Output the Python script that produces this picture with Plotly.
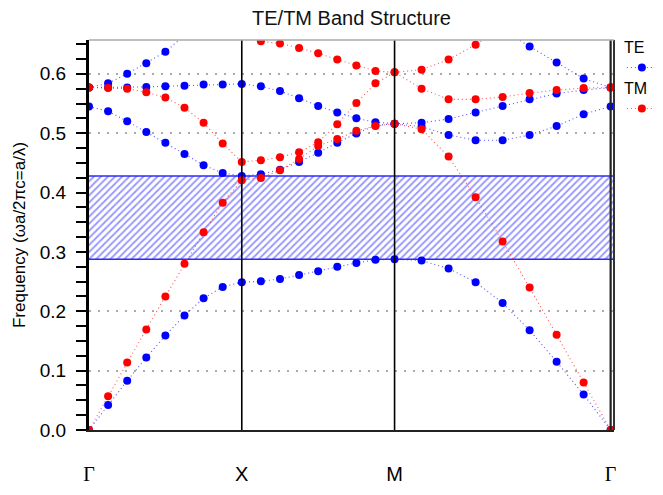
import numpy as np
import plotly.graph_objects as go

# ---------------- data ----------------
sym_labels = ["Γ", "X", "M", "Γ"]
seg_lengths = [1.0, 1.0, np.sqrt(2.0)]
steps_per_seg = 8

te_bands = [
    [0.000, 0.042, 0.083, 0.122, 0.159, 0.193, 0.222, 0.241, 0.249,
     0.2505, 0.2545, 0.261, 0.2675, 0.275, 0.2815, 0.2866, 0.2877,
     0.2855, 0.272, 0.249, 0.214, 0.168, 0.115, 0.0597, 0.000],
    [0.545, 0.537, 0.520, 0.502, 0.484, 0.465, 0.446, 0.433, 0.428,
     0.431, 0.4385, 0.4516, 0.467, 0.484, 0.4995, 0.513, 0.516,
     0.511, 0.497, 0.488, 0.488, 0.497, 0.512, 0.532, 0.545],
    [0.577, 0.577, 0.577, 0.578, 0.579, 0.580, 0.582, 0.582, 0.583,
     0.579, 0.571, 0.559, 0.546, 0.535, 0.525, 0.5186, 0.516,
     0.5175, 0.524, 0.535, 0.546, 0.557, 0.567, 0.5726, 0.577],
    [0.577, 0.584, 0.600, 0.618, 0.637, 0.665, 0.690, 0.710, 0.720,
     0.725, 0.730, 0.735, 0.740, 0.745, 0.750, 0.755, 0.760,
     0.745, 0.725, 0.700, 0.675, 0.646, 0.619, 0.592, 0.577],
]

tm_bands = [
    [0.000, 0.057, 0.1137, 0.1695, 0.225, 0.280, 0.333, 0.383, 0.4206,
     0.4245, 0.4375, 0.4566, 0.4786, 0.4904, 0.504, 0.5123, 0.516,
     0.5068, 0.4606, 0.392, 0.3176, 0.240, 0.1605, 0.080, 0.000],
    [0.577, 0.576, 0.575, 0.569, 0.560, 0.543, 0.5175, 0.4825, 0.4516,
     0.4544, 0.4595, 0.468, 0.4848, 0.5152, 0.5507, 0.584, 0.6025,
     0.575, 0.557, 0.557, 0.561, 0.5676, 0.5726, 0.576, 0.577],
    [0.800, 0.790, 0.770, 0.750, 0.730, 0.710, 0.690, 0.675, 0.666,
     0.655, 0.651, 0.6436, 0.6345, 0.624, 0.614, 0.6047, 0.6025,
     0.607, 0.624, 0.649, 0.680, 0.710, 0.740, 0.770, 0.800],
]

# ---------------- k-path ----------------
k = [0.0]
for L in seg_lengths:
    start = k[-1]
    for i in range(1, steps_per_seg + 1):
        k.append(start + L * i / steps_per_seg)
k = np.array(k)
sym_k = [k[0], k[steps_per_seg], k[2 * steps_per_seg], k[3 * steps_per_seg]]
x_max = sym_k[-1] + 0.022

gap_lo = max(te_bands[0])
gap_hi = min(te_bands[1])


def flatten(bands):
    xs, ys = [], []
    for b in bands:
        xs += list(k) + [None]
        ys += list(b) + [None]
    return xs, ys


fig = go.Figure()

# band gap (hatched)
fig.add_trace(go.Scatter(
    x=[0, x_max, x_max, 0, 0], y=[gap_lo, gap_lo, gap_hi, gap_hi, gap_lo],
    mode="lines", fill="toself", line=dict(width=0, color="rgba(0,0,0,0)"),
    fillcolor="rgba(255,255,255,0)",
    fillpattern=dict(shape="/", fgcolor="#3030ff", bgcolor="white",
                     size=5, solidity=0.37),
    showlegend=False, hoverinfo="skip"))
fig.add_trace(go.Scatter(
    x=[0, x_max, None, 0, x_max], y=[gap_lo, gap_lo, None, gap_hi, gap_hi],
    mode="lines", line=dict(color="#2a2aff", width=1.6),
    showlegend=False, hoverinfo="skip"))

xs, ys = flatten(te_bands)
fig.add_trace(go.Scatter(
    x=xs, y=ys, mode="lines+markers", name="",
    line=dict(color="rgba(40,40,255,0.8)", width=1.1, dash="1px,3px"),
    marker=dict(color="#0000ff", size=8),
    legend="legend", connectgaps=False))
xs, ys = flatten(tm_bands)
fig.add_trace(go.Scatter(
    x=xs, y=ys, mode="lines+markers", name="",
    line=dict(color="rgba(255,40,40,0.8)", width=1.1, dash="1px,3px"),
    marker=dict(color="#ff0000", size=8),
    legend="legend2", connectgaps=False))

shapes = []
for xv in sym_k[1:3]:
    shapes.append(dict(type="line", xref="x", yref="paper", x0=xv, x1=xv, y0=0, y1=1,
                       line=dict(color="black", width=1.6), layer="above"))
shapes.append(dict(type="line", xref="x", yref="paper", x0=sym_k[3], x1=sym_k[3], y0=0, y1=1,
                   line=dict(color="#222222", width=2.2), layer="above"))
shapes.append(dict(type="line", xref="paper", yref="paper", x0=1, x1=1, y0=0, y1=1,
                   line=dict(color="#333333", width=2), layer="above"))
shapes.append(dict(type="line", xref="paper", yref="paper", x0=0, x1=1, y0=1, y1=1,
                   line=dict(color="#aaaaaa", width=1.5), layer="above"))

# page body adds an 8px offset; size the figure to fill the rest of the window
fig.update_layout(
    width=655, height=487,
    margin=dict(l=81, r=49, t=32, b=65, autoexpand=False),
    paper_bgcolor="white", plot_bgcolor="white",
    font=dict(family="Liberation Sans, Arial, sans-serif", color="black"),
    title=dict(text="TE/TM Band Structure", x=0.5, xref="paper", xanchor="center",
               y=1 - 3 / 487, yref="container", yanchor="top", pad=dict(t=0, b=0),
               font=dict(size=20, color="#111111")),
    shapes=shapes,
    showlegend=True,
    legend=dict(x=1.015, y=1.02, xanchor="left", yanchor="top",
                title=dict(text="TE", side="top", font=dict(size=16)),
                font=dict(size=12), bgcolor="rgba(0,0,0,0)", itemwidth=30,
                tracegroupgap=0),
    legend2=dict(x=1.015, y=0.915, xanchor="left", yanchor="top",
                 title=dict(text="TM", side="top", font=dict(size=16)),
                 font=dict(size=12), bgcolor="rgba(0,0,0,0)", itemwidth=30,
                 tracegroupgap=0),
    xaxis=dict(range=[0, x_max], tickvals=sym_k,
               ticktext=["<span style='font-family:Liberation Serif'>Γ</span>", "X", "M",
                         "<span style='font-family:Liberation Serif'>Γ</span>"],
               tickfont=dict(size=20), ticks="", ticklabelstandoff=25,
               showgrid=False, zeroline=False, showline=True, linecolor="#222222",
               linewidth=2, automargin=False),
    yaxis=dict(range=[0, 0.657], tickvals=[0, 0.1, 0.2, 0.3, 0.4, 0.5, 0.6],
               tickformat=".1f", tickfont=dict(size=19),
               ticks="outside", ticklen=10, tickwidth=1.5, tickcolor="black",
               ticklabelstandoff=6, automargin=False,
               minor=dict(dtick=0.025, ticks="outside", ticklen=10, tickwidth=1.5,
                          tickcolor="black", showgrid=False),
               showgrid=True, gridcolor="#aaaaaa", gridwidth=1.5, griddash="2px,7px",
               zeroline=False, showline=True, linecolor="black", linewidth=3,
               title=dict(text="Frequency (ωa/2πc=a/λ)", font=dict(size=17), standoff=10)),
)

fig.write_html("out.html")
